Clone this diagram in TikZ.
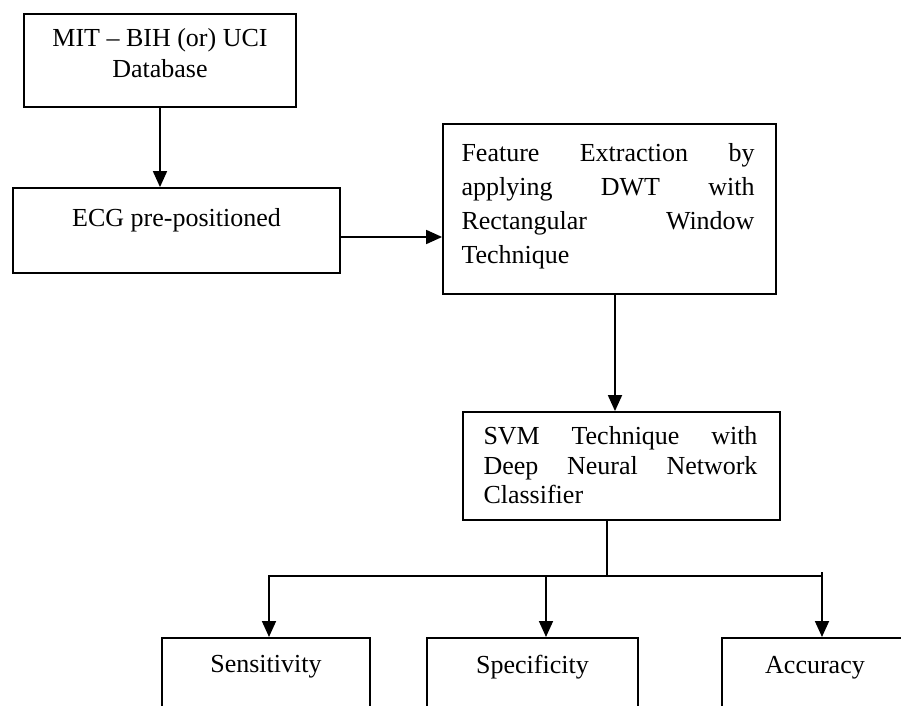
\documentclass[tikz,border=0pt]{standalone}
\usepackage{fontspec}
\setmainfont{Liberation Serif}
\usetikzlibrary{arrows.meta,positioning}

\newcommand{\spreadline}[2]{\leavevmode\hbox to #1{#2}}

\begin{document}
\begin{tikzpicture}[
    stage/.style={draw, line width=0.9pt, inner sep=0pt},
    caption/.style={inner sep=0pt},
    flow/.style={line width=0.9pt, -{Triangle[length=8pt,width=7pt]}},
    wire/.style={line width=0.9pt}]
    \useasboundingbox (0,0) rectangle (450.5pt,-353pt);
    \clip (0,0) rectangle (450.5pt,-353pt);
    % source
    \node[stage, minimum width=136pt, minimum height=46.5pt] (db) at (80pt,-30.25pt) {};
    \node[caption, align=center, font=\fontsize{13}{15.2}\selectfont,
        below=7.7pt of db.north] (dbtext) {MIT -- BIH (or) UCI\\Database};
    % preprocessing
    \node[stage, minimum width=163.5pt, minimum height=42.5pt] (ecg) at (88.25pt,-115.25pt) {};
    \node[caption, font=\fontsize{13}{15}\selectfont,
        below=10.7pt of ecg.north] (ecgtext) {ECG pre-positioned};
    % features
    \node[stage, minimum width=166.5pt, minimum height=85pt] (feat) at (304.75pt,-104.5pt) {};
    \node[caption, text width=146.5pt, align=left, font=\fontsize{13}{17}\selectfont,
        below right=10.2pt and 9.5pt of feat.north west] (feattext)
        {\spreadline{146.5pt}{Feature\hfill Extraction\hfill by}\\
         \spreadline{146.5pt}{applying\hfill DWT\hfill with}\\
         \spreadline{146.5pt}{Rectangular\hfill Window}\\
         Technique};
    % classifier
    \node[stage, minimum width=158.5pt, minimum height=54pt] (svm) at (310.75pt,-233pt) {};
    \node[caption, text width=137pt, align=left, font=\fontsize{13}{14.75}\selectfont,
        below right=7.7pt and 10.5pt of svm.north west] (svmtext)
        {\spreadline{137pt}{SVM\hfill Technique\hfill with}\\
         \spreadline{137pt}{Deep\hfill Neural\hfill Network}\\
         Classifier};
    % measures
    \node[stage, anchor=north, minimum width=104pt, minimum height=60pt] (sens) at (133pt,-318.5pt) {};
    \node[stage, anchor=north, minimum width=105.5pt, minimum height=60pt] (spec) at (266.25pt,-318.5pt) {};
    \node[stage, anchor=north, minimum width=93pt, minimum height=60pt] (acc) at (407.5pt,-318.5pt) {};
    \node[caption, font=\fontsize{13}{15}\selectfont, below=8.7pt of sens.north] (senstext) {Sensitivity};
    \node[caption, font=\fontsize{13}{15}\selectfont, below=8.7pt of spec.north] (spectext) {Specificity};
    \node[caption, font=\fontsize{13}{15}\selectfont, below=9.6pt of acc.north] (acctext) {Accuracy};
    % connectors
    \draw[flow] (db.south) -- (db.south |- ecg.north);
    \draw[flow] ([yshift=-3.25pt]ecg.east) -- ([yshift=-3.25pt]ecg.east -| feat.west);
    \draw[flow] ([xshift=2.75pt]feat.south) -- ([xshift=2.75pt]feat.south |- svm.north);
    % fan out
    \coordinate (fork) at (303.5pt,-288pt);
    \coordinate (tosens) at (134.5pt,-288pt);
    \coordinate (tospec) at (273pt,-288pt);
    \coordinate (toacc) at (411pt,-288pt);
    \draw[wire] (svm.south -| fork) -- (fork);
    \draw[flow] (toacc) -- (tosens) -- (tosens |- sens.north);
    \draw[flow] (tospec) -- (tospec |- spec.north);
    \draw[flow] ([yshift=2pt]toacc) -- (toacc |- acc.north);
\end{tikzpicture}
\end{document}
